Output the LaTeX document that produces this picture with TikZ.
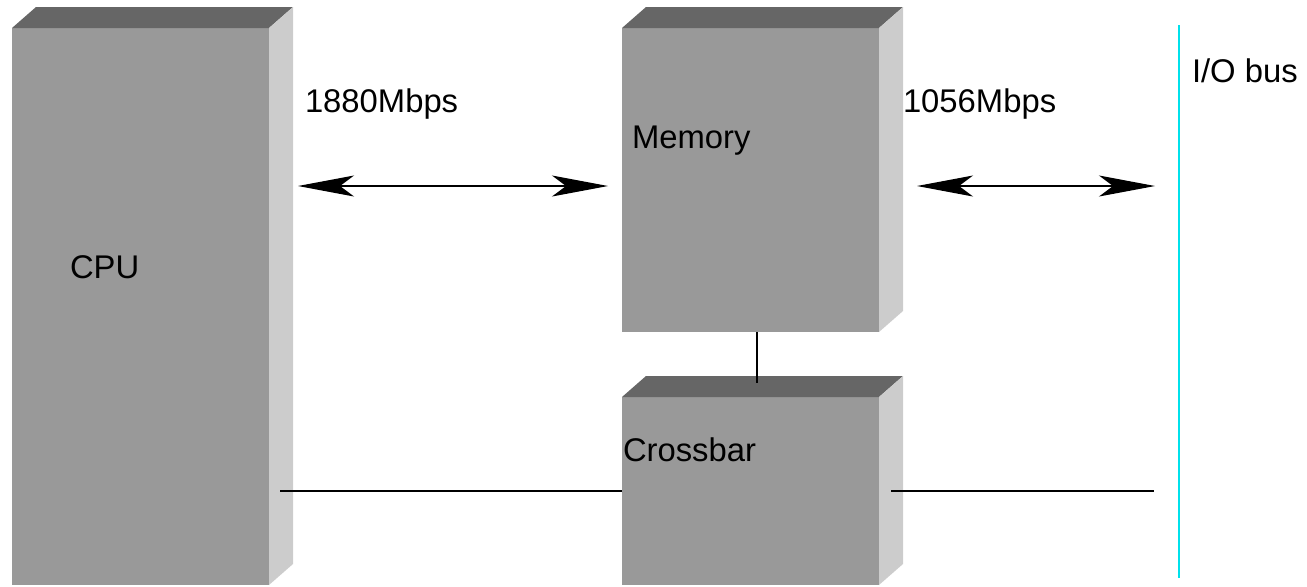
\documentclass[tikz,border=0pt]{standalone}
\usepackage{fontspec}
\setmainfont{Liberation Sans}
\usetikzlibrary{arrows.meta,fit,calc}
\definecolor{frontc}{HTML}{999999}
\definecolor{topc}{HTML}{666666}
\definecolor{sidec}{HTML}{CCCCCC}
\definecolor{busc}{RGB}{0,225,235}
\tikzset{
  front/.style={fill=frontc,draw=none,inner sep=0pt,outer sep=0pt,rectangle},
  lbl/.style={anchor=base west,inner sep=0pt,outer sep=0pt,font=\fontsize{16.4}{19}\selectfont},
  link/.style={line width=0.6pt,black},
  dbl/.style={link,{Stealth[length=28pt,width=10.5pt,inset=7pt]}-{Stealth[length=28pt,width=10.5pt,inset=7pt]}},
}
\newcommand{\boxthreed}[1]{%
  \fill[topc] (#1.north west) -- (#1.north east) -- ([shift={(24,-21)}]#1.north east) -- ([shift={(24,-21)}]#1.north west) -- cycle;
  \fill[sidec] (#1.north east) -- ([shift={(24,-21)}]#1.north east) -- ([shift={(24,-21)}]#1.south east) -- (#1.south east) -- cycle;
}
\begin{document}
\begin{tikzpicture}[x=0.5pt,y=-0.5pt]
\useasboundingbox (0,0) rectangle (1307,586);
% boxes
\node[front,fit={(12,28) (269,585)}] (cpu) {};
\boxthreed{cpu}
\node[front,fit={(622,28) (879,332)}] (memory) {};
\boxthreed{memory}
\node[front,fit={(622,397) (879,585)}] (crossbar) {};
\boxthreed{crossbar}
% labels
\node[lbl] (cpulbl) at (70,278) {CPU};
\node[lbl] (memlbl) at (632,148) {Memory};
\node[lbl] (xbarlbl) at (623,461) {Crossbar};
\node[lbl] (r1) at (305,112) {1880Mbps};
\node[lbl] (r2) at (903,112) {1056Mbps};
\node[lbl] (iolbl) at (1192,82) {I/O bus};
% I/O bus
\coordinate (bustop) at (1179,25);
\coordinate (busbot) at (1179,578);
\draw[busc,line width=1pt] (bustop) -- (busbot);
% arrows
\coordinate (a1l) at (298,186);
\coordinate (a1r) at (608,186);
\coordinate (a2l) at (917,186);
\coordinate (a2r) at (1155,186);
\draw[dbl] (a1l) -- (a1r);
\draw[dbl] (a2l) -- (a2r);
% memory - crossbar
\coordinate (mc) at (757,383);
\draw[link] (memory.south -| mc) -- (mc);
% bottom lines
\coordinate (bl) at (280,491);
\coordinate (br) at (891,491);
\coordinate (be) at (1154,491);
\draw[link] (bl) -- (crossbar.west |- bl);
\draw[link] (br) -- (be);
\end{tikzpicture}
\end{document}
